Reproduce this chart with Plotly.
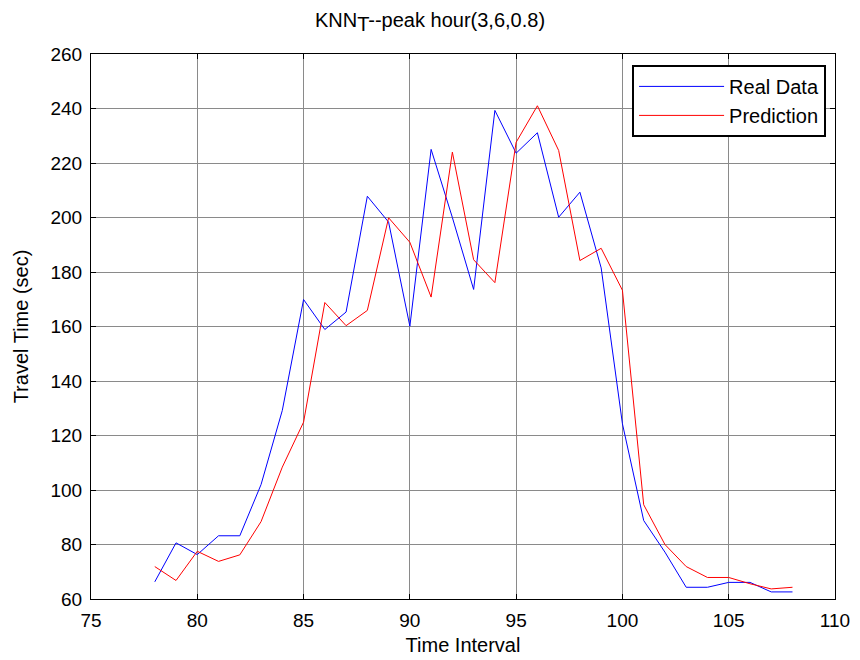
import plotly.graph_objects as go

time_interval = list(range(78, 109))
real_data = [66.3, 80.6, 76.3, 83.2, 83.2, 102.0, 129.2, 169.9, 158.9, 165.3,
             207.8, 198.3, 160.1, 225.0, 200.0, 173.6, 239.3, 223.6, 231.1, 200.1,
             209.3, 181.5, 124.3, 88.8, 77.2, 64.3, 64.3, 66.1, 66.1, 62.6, 62.6]
prediction = [71.9, 66.8, 77.5, 73.8, 76.2, 88.4, 108.4, 124.9, 168.8, 160.3,
              165.9, 199.9, 190.9, 170.8, 224.0, 184.5, 176.1, 227.6, 241.0, 224.6,
              184.2, 188.7, 173.3, 94.6, 80.0, 71.9, 67.9, 67.9, 65.6, 63.7, 64.3]

x_ticks = [75, 80, 85, 90, 95, 100, 105, 110]
y_ticks = [60, 80, 100, 120, 140, 160, 180, 200, 220, 240, 260]

FONT = "Arial, Liberation Sans, sans-serif"

fig = go.Figure()
fig.add_trace(go.Scatter(x=time_interval, y=real_data, mode="lines", name="Real Data",
                         legendgroup="a", line=dict(color="#0000ff", width=1)))
fig.add_trace(go.Scatter(x=time_interval, y=prediction, mode="lines", name="Prediction",
                         legendgroup="b", line=dict(color="#ff0000", width=1)))

axis_common = dict(
    showgrid=True, gridcolor="#8a8a8a", gridwidth=1,
    showline=True, linecolor="black", linewidth=1, mirror="ticks",
    ticks="inside", ticklen=5, tickcolor="black",
    zeroline=False, automargin=False,
    tickfont=dict(family=FONT, size=19, color="black"),
)

fig.update_layout(
    width=860, height=660,
    margin=dict(l=91, r=25, t=54, b=61),
    paper_bgcolor="white", plot_bgcolor="white",
    title=dict(text="KNN<sub><span style='font-size:20px'>T</span></sub>--peak hour(3,6,0.8)",
               x=0.5, xanchor="center", y=0.97, yanchor="middle",
               font=dict(family=FONT, size=20, color="black")),
    xaxis=dict(range=[75, 110], tickvals=x_ticks, ticklabelstandoff=4,
               title=dict(text="Time Interval", standoff=8,
                          font=dict(family=FONT, size=20, color="black")),
               **axis_common),
    yaxis=dict(range=[60, 260], tickvals=y_ticks, ticklabelstandoff=4,
               title=dict(text="Travel Time (sec)", standoff=16,
                          font=dict(family=FONT, size=20, color="black")),
               **axis_common),
    legend=dict(x=0.988, y=0.98, xanchor="right", yanchor="top",
                bgcolor="white", bordercolor="black", borderwidth=2,
                font=dict(family=FONT, size=20, color="black"),
                itemwidth=85, tracegroupgap=0),
    showlegend=True,
)

fig.write_html("out.html")
